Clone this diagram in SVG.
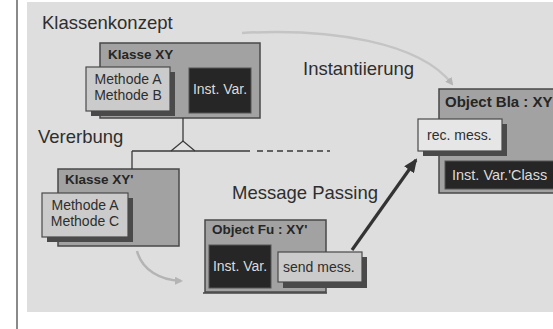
<svg xmlns="http://www.w3.org/2000/svg" width="553" height="329" viewBox="0 0 553 329">
<defs>
<style>
text{font-family:"Liberation Sans",Arial,sans-serif;fill:#2e2e2e}
.big{font-size:18.5px}
.title{font-size:13.5px;font-weight:bold;fill:#262626}
.lbl{font-size:14px}
.inv{fill:#dcdcdc}
.outer{fill:#a2a2a2;stroke:#484848;stroke-width:1.5}
.meth{fill:#cbcbcb;stroke:#4a4a4a;stroke-width:1.2}
.shadow{fill:#4a4a4a}
.dark{fill:#262626;stroke:#555;stroke-width:1}
.line{stroke:#3a3a3a;stroke-width:1.3;fill:none}
</style>
<marker id="ahLight" markerWidth="8" markerHeight="8" refX="6" refY="4" orient="auto" markerUnits="userSpaceOnUse">
<path d="M0,0 L8,4 L0,8 Z" fill="#b4b4b4"/>
</marker>
<marker id="ahDark" markerWidth="14" markerHeight="12" refX="12" refY="6" orient="auto" markerUnits="userSpaceOnUse">
<path d="M0,0 L14,6 L0,12 Z" fill="#333"/>
</marker>
</defs>

<rect x="0" y="0" width="553" height="329" fill="#ffffff"/>
<rect x="27" y="2" width="526" height="310" fill="#dedede"/>
<line x1="17" y1="0" x2="17" y2="329" stroke="#8a8a8a" stroke-width="2"/>

<text class="big" x="42" y="29">Klassenkonzept</text>
<text class="big" x="38" y="143">Vererbung</text>
<text class="big" x="303" y="75">Instantiierung</text>
<text class="big" x="232" y="199">Message Passing</text>

<g id="klasse-xy">
<rect class="outer" x="100" y="43" width="160" height="75"/>
<text class="title" x="108" y="59">Klasse XY</text>
<rect class="shadow" x="91" y="72" width="84" height="44"/>
<rect class="meth" x="86" y="67" width="84" height="44"/>
<text class="lbl" x="128" y="84" text-anchor="middle">Methode A</text>
<text class="lbl" x="128" y="100" text-anchor="middle">Methode B</text>
<rect class="dark" x="189" y="68" width="62" height="45"/>
<text class="lbl inv" x="220" y="94" text-anchor="middle">Inst. Var.</text>
</g>

<g id="klasse-xy2">
<rect class="outer" x="58" y="169" width="121" height="77"/>
<text class="title" x="65" y="184">Klasse XY'</text>
<rect class="shadow" x="47" y="198" width="86" height="44"/>
<rect class="meth" x="42" y="193" width="86" height="44"/>
<text class="lbl" x="85" y="210" text-anchor="middle">Methode A</text>
<text class="lbl" x="85" y="226" text-anchor="middle">Methode C</text>
</g>

<g id="object-fu">
<rect class="outer" x="205" y="220" width="121" height="72"/>
<line x1="203" y1="293" x2="327" y2="293" stroke="#444" stroke-width="1.5"/>
<text class="title" x="212" y="234">Object Fu : XY'</text>
<rect class="dark" x="209" y="245" width="62" height="43"/>
<text class="lbl inv" x="240" y="271" text-anchor="middle">Inst. Var.</text>
<rect class="shadow" x="283" y="257" width="84" height="31"/>
<rect class="meth" x="278" y="252" width="84" height="30" fill="#d0d0d0"/>
<text class="lbl" x="283" y="272">send mess.</text>
</g>

<g id="object-bla">
<rect class="outer" x="439" y="89" width="120" height="104" fill="#9e9e9e"/>
<text class="title" x="445" y="107" style="font-size:15px">Object Bla : XY</text>
<rect class="shadow" x="423" y="124" width="84" height="32"/>
<rect class="meth" x="418" y="119" width="84" height="32" style="fill:#e6e6e6"/>
<text class="lbl" x="427" y="140">rec. mess.</text>
<rect class="dark" x="445" y="161" width="115" height="28"/>
<text class="lbl inv" x="452" y="180" style="font-size:14.5px">Inst. Var.'Class</text>
</g>

<g id="connectors">
<path class="line" d="M183 118 L183 141"/>
<path d="M171 151 L183 141 L195 151" fill="#e2e2e2" stroke="#3a3a3a" stroke-width="1.3"/>
<path class="line" d="M132 151 L250 151"/>
<path d="M257 151 L330 151" stroke="#3a3a3a" stroke-width="1.3" stroke-dasharray="6,4" fill="none"/>
<path class="line" d="M132 151 L132 169"/>
<path d="M137 251 C142 270 160 280 181 281" stroke="#b4b4b4" stroke-width="2.5" fill="none" marker-end="url(#ahLight)"/>
<path d="M242 33 C330 28 420 42 452 84" stroke="#c4c4c4" stroke-width="2.5" fill="none" marker-end="url(#ahLight)"/>
<path d="M352 250 L416 160" stroke="#333" stroke-width="3.2" fill="none" marker-end="url(#ahDark)"/>
</g>
</svg>
